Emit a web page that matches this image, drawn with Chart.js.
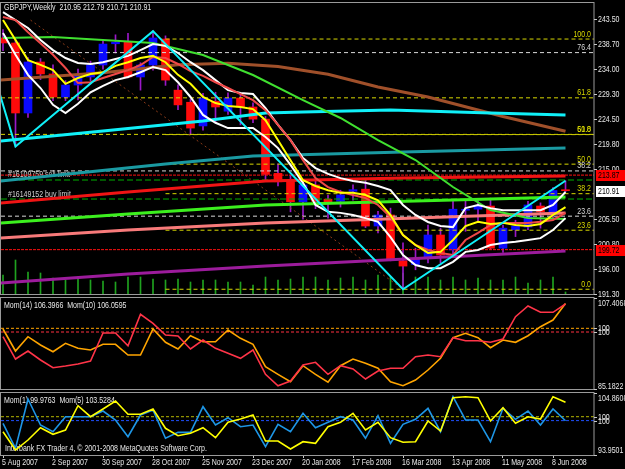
<!DOCTYPE html>
<html><head><meta charset="utf-8">
<script src="https://cdn.jsdelivr.net/npm/chart.js@4.4.1/dist/chart.umd.min.js"></script>
<style>
html,body{margin:0;padding:0;background:#000;overflow:hidden}
body{width:625px;height:469px;position:relative}
canvas{position:absolute;left:0}
</style></head><body>
<canvas id="cMain" width="625" height="300" style="top:0;width:625px;height:300px"></canvas>
<canvas id="cMom1" width="625" height="94" style="top:296px;width:625px;height:94px"></canvas>
<canvas id="cMom2" width="625" height="79" style="top:390px;width:625px;height:79px"></canvas>
<script>
// ---------------- DATA (weekly GBPJPY, index 0 = week of 5 Aug 2007) ----------------
const symbolTitle = "GBPJPY,Weekly  210.95 212.79 210.71 210.91";
const dateLabels = ["5 Aug 2007","2 Sep 2007","30 Sep 2007","28 Oct 2007","25 Nov 2007","23 Dec 2007","20 Jan 2008","17 Feb 2008","16 Mar 2008","13 Apr 2008","11 May 2008","8 Jun 2008"];
const dateLabelIdx = [0,4,8,12,16,20,24,28,32,36,40,44];

const opens  = [239.9,238.95,225.66,235.34,233.07,228.69,230.97,232.5,234.77,238.8,239.1,232.5,234.77,239.7,230.0,227.7,223.2,227.9,226.0,228.5,226.8,224.5,214.2,212.9,208.8,212.0,209.3,208.9,210.8,211.2,204.2,206.3,197.6,196.9,198.1,202.5,199.65,207.2,207.4,208.0,200.0,203.5,204.0,208.0,206.9,210.95];
const highs  = [241.5,239.6,236.2,236.0,234.8,231.8,234.0,235.5,239.5,240.5,240.8,235.2,241.2,240.3,231.0,228.3,229.4,229.6,229.5,229.3,227.6,225.0,216.0,213.8,212.9,213.0,210.1,211.0,212.0,212.9,207.0,207.6,201.0,200.0,204.4,203.8,208.9,209.1,209.3,209.5,204.4,205.3,208.9,208.6,211.5,212.79];
const lows   = [237.5,219.3,224.8,232.0,228.0,228.0,228.12,231.8,234.0,237.05,232.3,230.0,233.8,230.9,226.3,221.6,222.4,223.9,225.4,223.4,223.8,212.9,211.8,206.9,205.5,207.5,205.7,207.8,209.1,203.9,202.9,197.6,192.2,195.9,197.2,197.2,198.9,203.2,205.0,199.8,199.2,202.2,203.5,203.8,205.7,210.71];
const closes = [238.95,225.66,235.34,233.07,228.69,230.97,232.69,234.77,238.75,239.1,232.5,234.77,239.9,231.9,227.2,222.8,228.5,226.8,228.5,226.8,224.5,214.0,212.6,208.8,212.0,208.9,208.8,210.1,211.1,204.2,206.3,197.9,196.6,197.9,202.5,198.7,207.4,207.3,208.1,200.0,203.8,204.2,208.2,206.9,210.95,210.91];
const volumes = [19000,34000,22000,21000,16000,14000,17000,14000,13000,12000,17000,17000,15000,14000,15000,12000,14000,14000,12000,12000,9000,17000,14000,15000,17000,17000,14000,16000,17000,14000,19000,17000,21000,17000,17000,14000,17000,14000,16000,14000,14000,17000,11000,14000,17000,2000];

// short moving averages / envelopes (one value per week)
const envUpper = [244.8,243.3,241.8,239.5,237.6,236.1,235.15,234.96,235.3,235.9,236.5,237.6,238.75,238.4,237.05,235.3,233.8,231.9,230.0,229.45,229.26,226.6,223.4,220.5,217.1,215.2,214.1,213.3,212.75,212.4,211.8,211.04,208.2,206.3,204.97,204.2,204.0,207.6,208.2,207.6,207.2,207.2,207.2,207.2,208.2,210.66];
const envLower = [240.84,236.7,232.9,230.4,227.2,225.66,227.4,229.6,230.8,231.9,232.5,233.4,234.4,233.8,231.5,228.7,225.3,223.8,222.8,222.8,222.8,221.1,219.0,215.8,212.4,208.2,206.9,206.7,206.3,205.7,205.0,202.1,198.7,196.8,196.2,196.2,197.4,199.3,199.65,200.6,201.0,201.2,201.55,201.9,203.45,205.7];
const maFastRed = [243.9,243.3,241.0,238.9,236.7,234.2,231.35,231.5,232.3,233.06,233.8,234.77,236.3,236.1,234.96,233.6,232.7,231.5,230.4,229.26,228.1,226.2,223.4,220.5,216.7,213.3,211.6,210.66,210.1,209.5,208.2,205.9,202.5,200.6,199.65,199.1,198.7,201.55,202.9,204.4,204.8,204.8,204.8,205.0,205.35,206.7];
const maYellow = [243.3,239.5,235.7,234.8,233.8,231.2,232.3,233.06,233.4,234.6,235.3,236.1,236.5,235.3,232.9,231.2,228.7,227.55,227.0,226.8,226.4,224.3,220.5,216.7,212.9,211.8,211.0,210.5,210.5,210.1,209.1,206.3,202.5,200.6,199.1,199.3,201.55,204.2,205.0,204.6,204.8,204.4,204.2,204.6,206.3,207.8];

// long moving averages, read at [week index, price]
const maGreen  = [[0,239.9],[4,240.1],[8,239.5],[12,238.94],[16,236.67],[20,232.87],[24,228.12],[27,224.71],[30,220.53],[33,216.73],[36,211.61],[39,207.24],[42,205.72],[45,205.53]];
const maBrown  = [[-0.2,231.9],[8,233.3],[14,234.8],[18,235.1],[22,234.5],[26,233.0],[30,230.6],[34,228.7],[40,225.0],[45,222.2]];
const maCyan   = [[-0.2,220.34],[8,222.24],[16,224.14],[21,225.66],[24,225.85],[31,226.23],[39,225.66],[45,225.28]];
const maTeal   = [[-0.2,212.75],[6,214.27],[13,215.98],[20,217.49],[32,218.25],[45,219.01]];
const maRedSlow  = [[-0.2,208.57],[10,210.66],[21,212.75],[32,213.32],[45,213.70]];
const maLime     = [[-0.2,204.78],[10,206.49],[21,208.19],[45,209.71]];
const maSalmon   = [[-0.2,201.93],[10,203.45],[21,204.78],[45,206.67]];
const maPurple   = [[-0.2,193.39],[10,195.09],[21,196.61],[45,199.46]];
const zigzag     = [[-3,251.1],[1,219.3],[12,241.2],[32,192.2],[45,212.79]];
const trendLine  = [[2.2,243.3],[32,192.2]];

// Fibonacci retracements
const fibARatios = [100, 61.8, 50, 38.2, 23.6, 0];
const fibAHigh = 239.7, fibALow = 192.2, fibAStartIdx = 13;
const fibBRatios = [76.4, 61.8, 50, 38.2, 23.6];
const fibBHigh = 251.0, fibBLow = 192.2;

// pending orders and stops
const orderNames  = ["#16109759 sell limit", "#16149152 buy limit"];
const orderPrices = [212.94, 209.33];
const stopPrices  = [213.87, 199.72];
const lastPrice = 210.91;
const priceTicks = [243.50,238.70,234.00,229.30,224.50,219.80,215.00,205.50,200.80,196.00,191.30];

// momentum indicators
const mom14 = [98.93,93.83,95.66,93.6,91.84,92.23,92.69,93.37,99.77,99.77,96.87,104.05,101.99,99.32,99.09,96.12,98.17,96.28,95.13,93.99,95.89,90.34,87.73,88.8,92.46,93.08,90.34,92.3,91.55,89.26,91.09,91.71,91.71,94.36,94.75,94.36,98.7,98.01,98.01,97.65,98.4,103.5,105.94,104.5,104.5,106.3966];
const mom10 = [99.84,94.46,97.96,95.93,94.29,96.34,95.12,94.71,96.1,96.1,93.49,93.49,99.84,96.59,94.95,98.2,96.73,96.73,99.59,97.56,96.1,90.63,88.77,86.96,90.87,88.77,86.82,90.87,92.51,91.46,90.24,86.96,85.99,87.38,89.82,92.68,97.71,98.79,97.71,95.27,97.15,96.59,98.2,100.4,102.03,106.0595];
const mom1 = [99.53,95.13,103.8,99.23,98.05,100.69,100.69,100.69,101.69,100.11,97.17,100.99,101.87,96.89,97.94,97.94,102.45,99.23,100.51,98.93,99.23,95.41,99.35,98.05,101.29,98.75,99.7,100.69,100.11,96.89,100.87,96.01,99.35,100.23,102.17,98.05,104.21,100.11,100.11,96.29,102.17,100.23,101.69,99.23,102.04,99.9763];
const mom5 = [96.33,91.84,94.29,97.31,95.69,96.74,102.7,100.0,101.89,103.85,100.59,100.59,101.89,97.16,95.35,95.94,97.31,94.86,98.63,99.44,100.42,94.05,94.05,92.09,93.88,93.49,97.55,98.63,100.84,96.74,98.63,94.86,93.73,93.88,98.95,96.5,104.66,104.9,104.66,98.95,102.21,98.39,100.0,99.44,104.9,103.5284];
const momLevel = 100;

// ---------------- RENDERING ----------------
const X_MIN = -0.16, X_MAX = 47.28;
const FONT_FAMILY = '"Liberation Sans",Arial,sans-serif';
const FONT = '9px ' + FONT_FAMILY;
const SX = 0.78;             // horizontal squeeze to imitate the narrow terminal font
const TXT = '#E8E8E8';
const FRAME = '#9A9A9A';
Chart.defaults.animation = false;
Chart.defaults.font.family = FONT_FAMILY;
Chart.defaults.font.size = 9;
Chart.defaults.color = TXT;
Chart.defaults.plugins.legend.display = false;
Chart.defaults.plugins.tooltip.enabled = false;
Chart.defaults.events = [];

const series = arr => arr.map((v, i) => ({x: i, y: v}));
const pairs = arr => arr.map(p => ({x: p[0], y: p[1]}));
function lineDs(data, color, width, extra) {
  return Object.assign({type: 'line', data, borderColor: color, borderWidth: width, pointRadius: 0, fill: false, tension: 0, yAxisID: 'y', order: 20}, extra || {});
}
function hLine(value, from, color, dash, axis, order) {
  return lineDs([{x: from, y: value}, {x: X_MAX, y: value}], color, 1, {borderDash: dash, yAxisID: axis || 'y', order: order || 60});
}
const fixW = s => { s.width = 31; };
const hiddenX = {type: 'linear', min: X_MIN, max: X_MAX, display: false, offset: false};
const rightAxis = (min, max) => ({position: 'right', min, max, afterFit: fixW, ticks: {display: false}, grid: {display: false}, border: {display: false}});

function drawText(chart, text, x, y, color, align) {
  const c = chart.ctx;
  c.save(); c.font = FONT; c.fillStyle = color || TXT; c.textAlign = align || 'left'; c.textBaseline = 'middle';
  c.translate(x, y); c.scale(SX, 1);
  c.fillText(text, 0, 0); c.restore();
}
function drawFrame(chart) {
  const a = chart.chartArea, c = chart.ctx;
  c.save(); c.strokeStyle = FRAME; c.lineWidth = 1;
  c.strokeRect(Math.round(a.left) - 0.5, Math.round(a.top) - 0.5, Math.round(a.right - a.left) + 0.5, Math.round(a.bottom - a.top) + 1);
  c.restore();
}
function drawAxisLabels(chart, list) {
  const c = chart.ctx, ax = Math.round(chart.chartArea.right);
  list.forEach(it => {
    const sc = chart.scales[it.axis || 'y'];
    const py = Math.round(sc.getPixelForValue(it.v));
    const ty = py + (it.dy || 0);
    c.save();
    if (it.bg) {
      c.fillStyle = it.bg; c.fillRect(ax + 2, ty - 5, 31, 11);
    } else {
      c.strokeStyle = '#C8C8C8'; c.beginPath(); c.moveTo(ax, py + 0.5); c.lineTo(ax + 3, py + 0.5); c.stroke();
    }
    c.restore();
    drawText(chart, it.t, ax + 4, ty + 0.5, it.fg || TXT, 'left');
  });
}

// ---- main price chart ----
const BULL = '#0A0AFF', BEAR = '#FF0A0A', WICK = '#9A18C8';
const idx = opens.map((_, i) => i);
const bodyColors = idx.map(i => closes[i] >= opens[i] ? BULL : BEAR);
const fibYellow = '#D8D800', fibWhite = '#D8D8D8';
const fibBColors = [fibWhite, fibYellow, fibYellow, fibWhite, fibWhite];
const fibA = fibARatios.map(r => fibALow + (fibAHigh - fibALow) * r / 100);
const fibB = fibBRatios.map(r => fibBLow + (fibBHigh - fibBLow) * r / 100);

const mainDatasets = [
  {type: 'bar', data: idx.map(i => ({x: i, y: volumes[i]})), backgroundColor: '#1FA21F', barThickness: 1, grouped: false, yAxisID: 'yv', order: 100},
  {type: 'bar', data: idx.map(i => ({x: i, y: [lows[i], highs[i]]})), backgroundColor: WICK, barThickness: 1, grouped: false, yAxisID: 'y', order: 99},
  {type: 'bar', data: idx.map(i => ({x: i, y: [opens[i], closes[i]]})), backgroundColor: bodyColors, barThickness: 8, grouped: false, minBarLength: 1, yAxisID: 'y', order: 98},
];
fibA.forEach(v => mainDatasets.push(hLine(v, fibAStartIdx, fibYellow, [4, 3])));
fibB.forEach((v, i) => mainDatasets.push(hLine(v, X_MIN, fibBColors[i], [4, 3])));
orderPrices.forEach(v => mainDatasets.push(hLine(v, X_MIN, '#00B000', [6, 3])));
stopPrices.forEach(v => mainDatasets.push(hLine(v, X_MIN, '#FF1010', [3, 1])));
mainDatasets.push(
  lineDs(pairs(trendLine), '#8A3A18', 1, {borderDash: [2, 3], order: 55}),
  lineDs(pairs(maPurple), '#9C1C9C', 3, {order: 40}),
  lineDs(pairs(maSalmon), '#F87A7A', 3, {order: 40}),
  lineDs(pairs(maLime), '#3CF01E', 3, {order: 40}),
  lineDs(pairs(maRedSlow), '#F01414', 3, {order: 40}),
  lineDs(pairs(maTeal), '#1A9AA2', 3, {order: 40}),
  lineDs(pairs(maCyan), '#10F0F8', 3, {order: 40}),
  lineDs(pairs(maBrown), '#A0502A', 3, {order: 40}),
  lineDs(pairs(maGreen), '#40E030', 2, {order: 30}),
  lineDs(series(envLower), '#FFFFFF', 2, {order: 25}),
  lineDs(series(envUpper), '#FFFFFF', 2, {order: 25}),
  lineDs(series(maFastRed), '#F04848', 2, {order: 22}),
  lineDs(series(maYellow), '#FFFF00', 2, {order: 21}),
  lineDs(pairs(zigzag), '#10F0F8', 2, {order: 15})
);

const mainPlugin = {
  id: 'mainText',
  beforeDatasetsDraw(chart) {
    drawText(chart, symbolTitle, 4, 8, TXT);
    const y = chart.scales.y;
    orderNames.forEach((n, i) => drawText(chart, n, 8, y.getPixelForValue(orderPrices[i]) - 5, '#D0D0D0'));
  },
  afterDraw(chart) {
    const y = chart.scales.y, rx = Math.round(chart.chartArea.right) - 3;
    fibA.forEach((v, i) => drawText(chart, fibARatios[i].toFixed(1), rx, y.getPixelForValue(v) - 5, fibYellow, 'right'));
    fibB.forEach((v, i) => drawText(chart, fibBRatios[i].toFixed(1), rx, y.getPixelForValue(v) - 5, fibBColors[i], 'right'));
    drawFrame(chart);
    const list = priceTicks.map(v => ({v, t: v.toFixed(2)}));
    stopPrices.forEach(v => list.push({v, t: v.toFixed(2), bg: '#FF0000', fg: '#000000'}));
    list.push({v: lastPrice, t: lastPrice.toFixed(2), bg: '#FFFFFF', fg: '#000000'});
    drawAxisLabels(chart, list);
  }
};

new Chart(document.getElementById('cMain'), {
  type: 'line',
  data: {datasets: mainDatasets},
  options: {
    responsive: false, maintainAspectRatio: false,
    layout: {padding: {left: 1, right: 0, top: 3, bottom: 6}},
    scales: {
      x: hiddenX,
      y: rightAxis(191.3, 246.54),
      yv: {display: false, min: 0, max: 291000}
    }
  },
  plugins: [mainPlugin]
});

// ---- momentum pane 1 ----
const mom1Plugin = {
  id: 'mom1Text',
  beforeDatasetsDraw(chart) { drawText(chart, 'Mom(14) 106.3966  Mom(10) 106.0595', 4, 10, TXT); },
  afterDraw(chart) {
    drawFrame(chart);
    drawAxisLabels(chart, [
      {v: 107.4068, t: '107.4068', dy: 5},
      {v: momLevel, t: '100'},
      {v: momLevel, t: '100', axis: 'yB'},
      {v: 85.1822, t: '85.1822', dy: -3}
    ]);
  }
};
new Chart(document.getElementById('cMom1'), {
  type: 'line',
  data: {datasets: [
    hLine(momLevel, X_MIN, '#FFA500', [3, 2], 'y', 60),
    hLine(momLevel, X_MIN, '#FF3040', [3, 2], 'yB', 60),
    lineDs(series(mom14), '#FF3448', 1.6, {yAxisID: 'yB', order: 10}),
    lineDs(series(mom10), '#FFA500', 1.6, {yAxisID: 'y', order: 11})
  ]},
  options: {
    responsive: false, maintainAspectRatio: false,
    layout: {padding: {left: 1, right: 0, top: 2, bottom: 1}},
    scales: {x: hiddenX, y: rightAxis(85.1822, 107.4068), yB: {display: false, min: 86.98, max: 107.77}}
  },
  plugins: [mom1Plugin]
});

// ---- momentum pane 2 ----
const mom2Plugin = {
  id: 'mom2Text',
  beforeDatasetsDraw(chart) {
    drawText(chart, 'Mom(1) 99.9763  Mom(5) 103.5284', 4, 11, TXT);
    drawText(chart, 'Interbank FX Trader 4, \u00A9 2001-2008 MetaQuotes Software Corp.', 5, 59, TXT);
  },
  afterDraw(chart) {
    drawFrame(chart);
    drawAxisLabels(chart, [
      {v: 104.8608, t: '104.8608', dy: 5},
      {v: momLevel, t: '100', axis: 'yC'},
      {v: momLevel, t: '100'},
      {v: 93.9501, t: '93.9501', dy: -5}
    ]);
    const xs = chart.scales.x;
    dateLabelIdx.forEach((v, i) => drawText(chart, dateLabels[i], xs.getPixelForValue(v) - 1, chart.chartArea.bottom + 8, TXT, 'left'));
  }
};
new Chart(document.getElementById('cMom2'), {
  type: 'line',
  data: {datasets: [
    hLine(momLevel, X_MIN, '#B8B800', [3, 2], 'yC', 60),
    hLine(momLevel, X_MIN, '#2050FF', [3, 2], 'y', 60),
    lineDs(series(mom1), '#1E96E6', 1.6, {yAxisID: 'y', order: 11}),
    lineDs(series(mom5), '#FFFF00', 1.6, {yAxisID: 'yC', order: 10})
  ]},
  options: {
    responsive: false, maintainAspectRatio: false,
    layout: {padding: {left: 1, right: 0, top: 3, bottom: 0}},
    scales: {
      x: {type: 'linear', min: X_MIN, max: X_MAX, offset: false,
          afterBuildTicks: s => { s.ticks = dateLabelIdx.map(v => ({value: v})); },
          afterFit: s => { s.height = 14; },
          ticks: {display: false, autoSkip: false, maxRotation: 0},
          grid: {display: true, drawOnChartArea: false, drawTicks: true, tickLength: 3, color: '#C8C8C8'},
          border: {display: false}},
      y: rightAxis(93.9501, 104.8608),
      yC: {display: false, min: 90.62, max: 105.81}
    }
  },
  plugins: [mom2Plugin]
});
</script></body></html>
